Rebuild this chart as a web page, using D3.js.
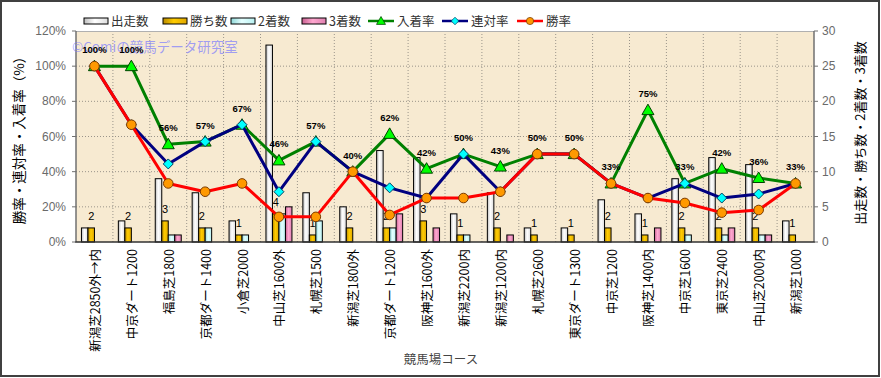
<!DOCTYPE html>
<html><head><meta charset="utf-8">
<script src="https://cdn.jsdelivr.net/npm/d3@7"></script>
<style>body{margin:0;background:#fff;} svg{display:block}</style>
</head><body><svg id="c" width="881" height="378"></svg>
<script>
const categories = ["新潟芝2850外→内","中京ダート1200","福島芝1800","京都ダート1400","小倉芝2000","中山芝1600外","札幌芝1500","新潟芝1800外","京都ダート1200","阪神芝1600外","新潟芝2200内","新潟芝1200内","札幌芝2600","東京ダート1300","中京芝1200","阪神芝1400内","中京芝1600","東京芝2400","中山芝2000内","新潟芝1000"];
const starts  = [2,3,9,7,3,28,7,5,13,12,4,7,2,2,6,4,9,12,11,3];
const wins    = [2,2,3,2,1,4,1,2,2,3,1,2,1,1,2,1,2,2,2,1];
const seconds = [0,0,1,2,1,4,3,0,2,0,1,0,0,0,0,0,1,1,1,0];
const thirds  = [0,0,1,0,0,5,0,0,4,2,0,1,0,0,0,2,0,2,1,0];
const winRate      = [100,66.7,33.3,28.6,33.3,14.3,14.3,40,15.4,25,25,28.6,50,50,33.3,25,22.2,16.7,18.2,33.3];
const rentaiRate   = [100,66.7,44.4,57.1,66.7,28.6,57.1,40,30.8,25,50,28.6,50,50,33.3,25,33.3,25,27.3,33.3];
const nyuchakuRate = [100,100,55.6,57.1,66.7,46.4,57.1,40,61.5,41.7,50,42.9,50,50,33.3,75,33.3,41.7,36.4,33.3];
const leftTicks  = [0,20,40,60,80,100,120];
const rightTicks = [0,5,10,15,20,25,30];
const barSeries = [
  {name:"出走数", values:starts,  grad:"gW"},
  {name:"勝ち数", values:wins,    grad:"gY"},
  {name:"2着数",  values:seconds, grad:"gC"},
  {name:"3着数",  values:thirds,  grad:"gP"}
];
const lineSeries = [
  {name:"入着率", values:nyuchakuRate, color:"#008000", fill:"#00ff00", marker:"tri"},
  {name:"連対率", values:rentaiRate,   color:"#000080", fill:"#00ffff", marker:"dia"},
  {name:"勝率",   values:winRate,      color:"#ff0000", fill:"#ff9900", marker:"cir"}
];

const svg = d3.select("#c");
const W=881,H=378;
const P={l:76,r:814,t:31,b:242};
const JP = "'Noto Sans CJK JP','Noto Sans',sans-serif";
const LAT = "'Liberation Sans',Arial,sans-serif";

const defs = svg.append("defs");
function grad(id, stops){
  const g = defs.append("linearGradient").attr("id",id).attr("x1","0").attr("x2","1").attr("y1","0").attr("y2","0");
  stops.forEach(([o,c])=>g.append("stop").attr("offset",o).attr("stop-color",c));
}
grad("gW",[[0,"#bdbdbd"],[0.45,"#ffffff"],[1,"#dcdcdc"]]);
grad("gY",[[0,"#b88a00"],[0.45,"#ffcc00"],[1,"#e0a800"]]);
grad("gC",[[0,"#90d8d8"],[0.45,"#e4ffff"],[1,"#b8f0f0"]]);
grad("gP",[[0,"#c86090"],[0.45,"#ffa8d0"],[1,"#e080b0"]]);

// outer
svg.append("rect").attr("x",0).attr("y",0).attr("width",W).attr("height",H).attr("fill","#fff");
svg.append("rect").attr("x",1).attr("y",1).attr("width",W-3).attr("height",H-3).attr("fill","none").attr("stroke","#404040").attr("stroke-width",2);

const x = d3.scaleBand().domain(categories).range([P.l,P.r]).padding(0);
const yL = d3.scaleLinear().domain([0,120]).range([P.b,P.t]);
const yR = d3.scaleLinear().domain([0,30]).range([P.b,P.t]);

// plot bg
svg.append("rect").attr("x",P.l).attr("y",P.t).attr("width",P.r-P.l).attr("height",P.b-P.t).attr("fill","#f7ead1");

// grid
const g = svg.append("g");
g.selectAll(".hg").data(leftTicks.slice(1,-1)).join("line")
  .attr("x1",P.l).attr("x2",P.r).attr("y1",d=>yL(d)).attr("y2",d=>yL(d))
  .attr("stroke","#9a948a").attr("stroke-dasharray","1,2").attr("stroke-width",1);
g.selectAll(".vg").data(categories.slice(1)).join("line")
  .attr("x1",d=>x(d)).attr("x2",d=>x(d)).attr("y1",P.t).attr("y2",P.b)
  .attr("stroke","#9a948a").attr("stroke-dasharray","1,2").attr("stroke-width",1);

// border
svg.append("line").attr("x1",P.l).attr("x2",P.r).attr("y1",P.t+0.5).attr("y2",P.t+0.5).attr("stroke","#b0b0b0");
svg.append("line").attr("x1",P.r).attr("x2",P.r).attr("y1",P.t).attr("y2",P.b).attr("stroke","#707070").attr("stroke-width",1.5);
svg.append("line").attr("x1",P.l).attr("x2",P.l).attr("y1",P.t).attr("y2",P.b).attr("stroke","#707070").attr("stroke-width",1.5);

// watermark
svg.append("text").attr("x",72).attr("y",52).attr("font-family",JP).attr("font-size",13.5)
  .attr("fill","#7a7aff").attr("fill-opacity",0.7).text("©Comiの競馬データ研究室");

// bars
const bw = 6.5;
const sub = d3.scaleBand().domain(barSeries.map(s=>s.name)).range([0,bw*4]);
const bars = svg.append("g");
barSeries.forEach(s=>{
  bars.selectAll(null).data(categories).join("rect")
    .attr("x",(d,i)=>x(d)+x.bandwidth()/2-bw*2+sub(s.name))
    .attr("width",bw)
    .attr("y",(d,i)=>yR(s.values[i]))
    .attr("height",(d,i)=>yR(0)-yR(s.values[i]))
    .attr("fill",`url(#${s.grad})`)
    .attr("stroke",(d,i)=>s.values[i]>0?"#000":"none").attr("stroke-width",1);
});
// count labels (wins)
svg.append("g").selectAll("text").data(categories).join("text")
  .attr("x",(d,i)=>x(d)+x.bandwidth()/2-bw*2+sub("勝ち数")+bw/2)
  .attr("y",(d,i)=>yR(wins[i])-8)
  .attr("text-anchor","middle").attr("font-family",LAT).attr("font-size",11).attr("fill","#000")
  .text((d,i)=>wins[i]);

// bottom axis line
svg.append("line").attr("x1",P.l-1).attr("x2",P.r+1).attr("y1",P.b).attr("y2",P.b).attr("stroke","#303030").attr("stroke-width",1.5);

// lines
function marker(sel, type, fill){
  if(type==="cir") sel.append("circle").attr("r",4.8).attr("fill",fill).attr("stroke","#7a3a00").attr("stroke-width",1);
  else if(type==="dia") sel.append("path").attr("d","M0,-5L5,0L0,5L-5,0Z").attr("fill",fill).attr("stroke","#004060").attr("stroke-width",1);
  else sel.append("path").attr("d","M0,-6L6,4.5L-6,4.5Z").attr("fill",fill).attr("stroke","#004000").attr("stroke-width",1);
}
const cx = d=>x(d)+x.bandwidth()/2;
lineSeries.forEach(s=>{
  const line = d3.line().x((v,i)=>cx(categories[i])).y(v=>yL(v));
  svg.append("path").attr("d",line(s.values)).attr("fill","none").attr("stroke",s.color).attr("stroke-width",3).attr("stroke-linejoin","round");
  s.values.forEach((v,i)=>{
    const m = svg.append("g").attr("transform",`translate(${cx(categories[i])},${yL(v)})`);
    marker(m,s.marker,s.fill);
  });
});
// rate labels
svg.append("g").selectAll("text").data(categories).join("text")
  .attr("x",d=>cx(d)).attr("y",(d,i)=>yL(nyuchakuRate[i])-13)
  .attr("text-anchor","middle").attr("font-family",LAT).attr("font-weight","bold").attr("font-size",9.5).attr("fill","#000")
  .text((d,i)=>Math.round(nyuchakuRate[i])+"%");

// left ticks
const lt = svg.append("g");
leftTicks.forEach(t=>{
  lt.append("line").attr("x1",P.l-4).attr("x2",P.l).attr("y1",yL(t)).attr("y2",yL(t)).attr("stroke","#707070");
  lt.append("text").attr("x",66).attr("y",yL(t)+4).attr("text-anchor","end").attr("font-family",LAT).attr("font-size",12).attr("fill","#6a6a6a").text(t+"%");
});
const rt = svg.append("g");
rightTicks.forEach(t=>{
  rt.append("line").attr("x1",P.r).attr("x2",P.r+4).attr("y1",yR(t)).attr("y2",yR(t)).attr("stroke","#707070");
  rt.append("text").attr("x",822).attr("y",yR(t)+4).attr("text-anchor","start").attr("font-family",LAT).attr("font-size",12).attr("fill","#6a6a6a").text(t);
});
// x labels
svg.append("g").selectAll("text").data(categories).join("text")
  .attr("transform",d=>`translate(${cx(d)},249) rotate(-90)`)
  .attr("text-anchor","end").attr("dominant-baseline","central")
  .attr("font-family",JP).attr("font-size",12.5).attr("fill","#000").text(d=>d);

// axis titles
svg.append("text").attr("transform","translate(18,137) rotate(-90)").attr("text-anchor","middle").attr("dominant-baseline","central")
  .attr("font-family",JP).attr("font-size",13.5).attr("fill","#000").text("勝率・連対率・入着率（%）");
svg.append("text").attr("transform","translate(859,133) rotate(-90)").attr("text-anchor","middle").attr("dominant-baseline","central")
  .attr("font-family",JP).attr("font-size",13).attr("fill","#000").text("出走数・勝ち数・2着数・3着数");
svg.append("text").attr("x",441).attr("y",364).attr("text-anchor","middle")
  .attr("font-family",JP).attr("font-size",12.5).attr("fill","#444").text("競馬場コース");

// legend
const leg = svg.append("g");
const legBarX = [84,163,231,302];
barSeries.forEach((s,i)=>{
  leg.append("rect").attr("x",legBarX[i]).attr("y",18).attr("width",24).attr("height",6).attr("fill",`url(#${s.grad})`).attr("stroke","#000");
  leg.append("text").attr("x",legBarX[i]+27).attr("y",26).attr("font-family",JP).attr("font-size",12.5).attr("fill","#333").text(s.name);
});
const legLineX = [368,442,517];
lineSeries.forEach((s,i)=>{
  leg.append("line").attr("x1",legLineX[i]).attr("x2",legLineX[i]+26).attr("y1",21).attr("y2",21).attr("stroke",s.color).attr("stroke-width",2.5);
  const m = leg.append("g").attr("transform",`translate(${legLineX[i]+13},21) scale(0.75)`);
  marker(m,s.marker,s.fill);
  leg.append("text").attr("x",legLineX[i]+29).attr("y",26).attr("font-family",JP).attr("font-size",12.5).attr("fill","#333").text(s.name);
});
</script></body></html>
